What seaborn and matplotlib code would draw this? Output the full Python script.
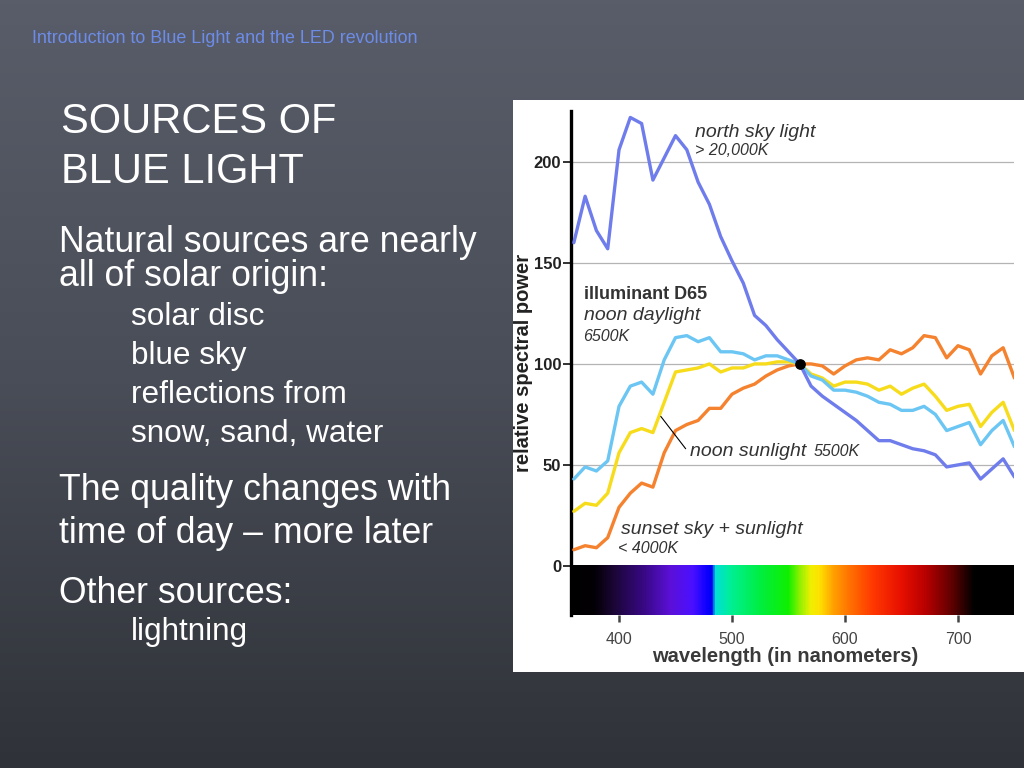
import numpy as np
import pandas as pd
import matplotlib
matplotlib.use('Agg')
import matplotlib.pyplot as plt
import seaborn as sns
from matplotlib.colors import LinearSegmentedColormap
from matplotlib.patches import Rectangle

# spectral power curves (relative, 100 at 560 nm)
wavelength = list(range(360, 751, 10))
north_sky = [160, 183, 166, 157, 206, 222, 219, 191, 202, 213, 206, 190, 179, 163, 151, 140,
             124, 119, 112, 106, 100, 89, 84, 80, 76, 72, 67, 62, 62, 60, 58, 57, 55, 49, 50,
             51, 43, 48, 53, 44]
d65 = [43, 49, 47, 52, 79, 89, 91, 85, 102, 113, 114, 111, 113, 106, 106, 105, 102, 104, 104,
       102, 100, 94, 92, 87, 87, 86, 84, 81, 80, 77, 77, 79, 75, 67, 69, 71, 60, 67, 72, 59]
noon_sun = [27, 31, 30, 36, 56, 66, 68, 66, 81, 96, 97, 98, 100, 96, 98, 98, 100, 100, 101, 101,
            100, 95, 93, 89, 91, 91, 90, 87, 89, 85, 88, 90, 84, 77, 79, 80, 69, 76, 81, 67]
sunset = [8, 10, 9, 14, 29, 36, 41, 39, 56, 67, 70, 72, 78, 78, 85, 88, 90, 94, 97, 99, 100,
          100, 99, 95, 99, 102, 103, 102, 107, 105, 108, 114, 113, 103, 109, 107, 95, 104, 108, 93]

y_ticks = [0, 50, 100, 150, 200]
x_ticks = [400, 500, 600, 700]

# visible spectrum strip colour stops
spec_nm = [357.5, 378, 395, 420, 445, 465, 478, 482, 485, 500, 525, 550, 560, 570, 578, 590,
           605, 625, 650, 672, 695, 715, 749.6]
spec_col = ['#000000', '#040006', '#1c0636', '#360880', '#5c10d8', '#4a10ff', '#0a00ff', '#0000f0',
            '#00e0d8', '#00f090', '#00ee40', '#10f000', '#90f000', '#f0f000', '#ffe000', '#ffa000',
            '#ff7000', '#ff3800', '#e81000', '#b80000', '#600000', '#000000', '#000000']

df = pd.DataFrame({'wavelength': wavelength, 'north sky': north_sky, 'D65': d65,
                   'noon sunlight': noon_sun, 'sunset': sunset})

sns.set_style('white')
plt.rcParams['font.family'] = ['Liberation Sans', 'DejaVu Sans']

W, H = 1024, 768
fig = plt.figure(figsize=(10.24, 7.68), dpi=100)

def fx(px):
    return px / W

def fy(py):
    return 1 - py / H

# slate background
bg = fig.add_axes([0, 0, 1, 1])
grad = np.linspace(0, 1, 256).reshape(-1, 1)
bg_cmap = LinearSegmentedColormap.from_list('slate', ['#585d69', '#494d57', '#2f3238'])
bg.imshow(grad, cmap=bg_cmap, aspect='auto', extent=[0, 1, 0, 1])
bg.add_patch(Rectangle((fx(513), fy(672)), (W - 513) / W, 572 / H, transform=bg.transAxes,
                       facecolor='white', edgecolor='none'))
bg.set_xlim(0, 1)
bg.set_ylim(0, 1)
bg.axis('off')

# slide text
fig.text(fx(32), fy(43), 'Introduction to Blue Light and the LED revolution', color='#6d8ce8',
         fontsize=12.9, va='baseline')
fig.text(fx(61), fy(133), 'SOURCES OF', color='white', fontsize=30, va='baseline')
fig.text(fx(61), fy(183), 'BLUE LIGHT', color='white', fontsize=30, va='baseline')
main_lines = [('Natural sources are nearly', 252), ('all of solar origin:', 286),
              ('The quality changes with', 500), ('time of day \u2013 more later', 543),
              ('Other sources:', 603)]
for txt, yb in main_lines:
    fig.text(fx(59), fy(yb), txt, color='white', fontsize=25.7, va='baseline')
sub_lines = [('solar disc', 325), ('blue sky', 364), ('reflections from', 403),
             ('snow, sand, water', 442), ('lightning', 640)]
for txt, yb in sub_lines:
    fig.text(fx(131), fy(yb), txt, color='white', fontsize=22.7, va='baseline')

# chart
xmin, xmax = 357.5, 749.6
ymin, ymax = -24.3, 225.2
ax = fig.add_axes([fx(571), fy(615), 443 / W, 504 / H])
ax.set_facecolor('white')

pos = [(n - xmin) / (xmax - xmin) for n in spec_nm]
spec_cmap = LinearSegmentedColormap.from_list('spectrum', list(zip(pos, spec_col)))
strip = np.linspace(xmin, xmax, 900).reshape(1, -1)
ax.imshow(strip, cmap=spec_cmap, vmin=xmin, vmax=xmax, aspect='auto',
          extent=[xmin, xmax, ymin, 0], zorder=1)

for yv in y_ticks[1:]:
    ax.axhline(yv, color='#b4b4b4', lw=0.9, zorder=0)

sns.lineplot(data=df, x='wavelength', y='sunset', color='#f5822e', lw=2.4, ax=ax, zorder=3)
sns.lineplot(data=df, x='wavelength', y='noon sunlight', color='#f7dc1c', lw=2.4, ax=ax, zorder=4)
sns.lineplot(data=df, x='wavelength', y='D65', color='#6cc6f4', lw=2.4, ax=ax, zorder=5)
sns.lineplot(data=df, x='wavelength', y='north sky', color='#6f7cec', lw=2.4, ax=ax, zorder=6)
ax.scatter([560], [100], s=45, color='black', zorder=8)

ax.set_xlim(xmin, xmax)
ax.set_ylim(ymin, ymax)
ax.set_yticks(y_ticks)
ax.set_xticks(x_ticks)
ax.set_yticklabels([str(v) for v in y_ticks], fontweight='bold', fontsize=12, color='#222222')
ax.set_xticklabels([str(v) for v in x_ticks], fontsize=11.5, color='#444444')
ax.tick_params(axis='y', left=True, length=6, width=1.3, pad=1, colors='#222222')
ax.tick_params(axis='x', bottom=True, length=5, width=1.8, pad=7, colors='#444444')
for s in ['top', 'right', 'bottom']:
    ax.spines[s].set_visible(False)
ax.spines['left'].set_linewidth(2.4)
ax.spines['left'].set_color('black')

ax.set_xlabel('wavelength (in nanometers)', fontsize=14.5, fontweight='bold', color='#3a3a3a')
ax.xaxis.set_label_coords(0.483, -0.064)
ax.set_ylabel('relative spectral power', fontsize=14.5, fontweight='bold', color='#222222')
ax.yaxis.set_label_coords(-0.086, 0.5)

note = '#333333'
ax.text(467, 212.5, 'north sky light', fontsize=14, style='italic', color=note, va='baseline')
ax.text(467, 203.5, '> 20,000K', fontsize=11.5, style='italic', color=note, va='baseline')
ax.text(369, 132, 'illuminant D65', fontsize=13, fontweight='bold', color=note, va='baseline')
ax.text(369, 121.5, 'noon daylight', fontsize=14, style='italic', color=note, va='baseline')
ax.text(368, 111.5, '6500K', fontsize=11.5, style='italic', color=note, va='baseline')
ax.text(463, 54.5, 'noon sunlight', fontsize=14, style='italic', color=note, va='baseline')
ax.text(572, 54.5, '5500K', fontsize=11.5, style='italic', color=note, va='baseline')
ax.plot([437, 459], [74, 58], color='black', lw=0.8, zorder=7)
ax.text(401.5, 15.8, 'sunset sky + sunlight', fontsize=14, style='italic', color=note, va='baseline')
ax.text(399, 6.3, '< 4000K', fontsize=11.5, style='italic', color=note, va='baseline')

plt.savefig('out.png', dpi=100)
